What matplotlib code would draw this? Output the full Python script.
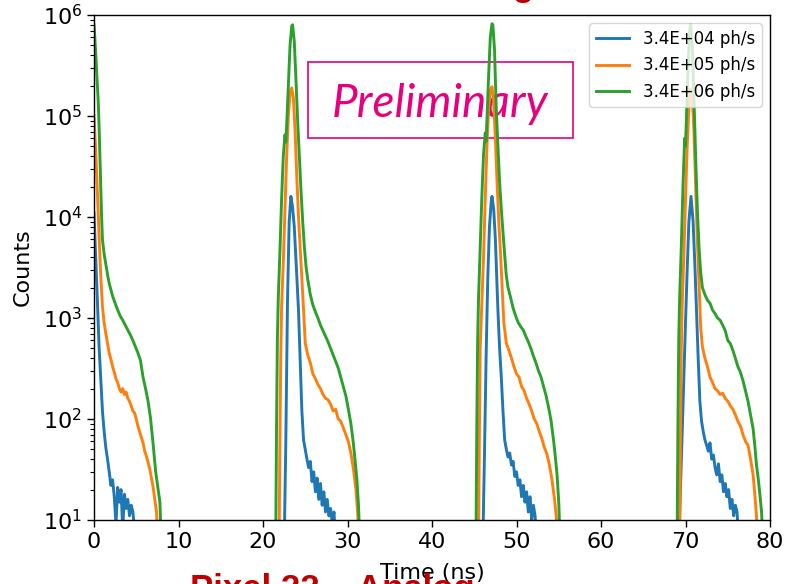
import matplotlib.pyplot as plt
from matplotlib.patches import Rectangle

# time histograms (ns, counts) per photon rate; 5 = empty bins below the axis floor
labels = ["3.4E+04 ph/s", "3.4E+05 ph/s", "3.4E+06 ph/s"]

blue_t = [0.0, 0.2, 0.4, 0.6, 0.8, 1.0, 1.2, 1.4, 1.6, 1.8, 2.0, 2.2, 2.4, 2.6, 2.8, 3.0, 3.2, 3.4, 3.6, 3.8,
          4.0, 4.2, 4.4, 4.6, 4.8, 5.0,
          22.5, 22.7, 22.9, 23.1, 23.3, 23.5, 23.7, 24.0, 24.2, 24.4, 24.6, 24.8, 25.0, 25.2, 25.4, 25.6, 25.8,
          26.0, 26.2, 26.4, 26.6, 26.8, 27.0, 27.2, 27.4, 27.6, 27.8, 28.0, 28.2, 28.4, 28.6,
          46.0, 46.2, 46.4, 46.6, 46.8, 47.0, 47.1, 47.3, 47.5, 47.8, 48.0, 48.2, 48.4, 48.6, 48.8, 49.0, 49.2,
          49.4, 49.6, 49.8, 50.0, 50.2, 50.4, 50.6, 50.8, 51.0, 51.2, 51.4, 51.6, 51.8, 52.0, 52.2, 52.4,
          69.2, 69.4, 69.6, 69.8, 70.0, 70.2, 70.4, 70.65, 70.9, 71.1, 71.3, 71.5, 71.7, 71.9, 72.1, 72.3, 72.5,
          72.7, 72.9, 73.1, 73.3, 73.5, 73.7, 73.9, 74.1, 74.3, 74.5, 74.7, 74.9, 75.1, 75.3, 75.5, 75.7, 75.9,
          76.1, 76.3]
blue_c = [11000, 4000, 1500, 520, 250, 120, 75, 52, 40, 30, 22, 25, 17, 9, 21, 15, 20, 8, 18, 13,
          16, 11, 14, 12, 8, 5,
          5, 60, 1500, 9000, 16000, 12500, 8000, 2600, 1200, 380, 120, 62, 50, 40, 33, 38, 24,
          30, 19, 26, 16, 23, 14, 19, 12, 16, 11, 13, 9, 12, 6,
          5, 40, 400, 2500, 8000, 14000, 16000, 12000, 6000, 1200, 500, 260, 120, 62, 50, 42, 46,
          35, 38, 27, 30, 22, 25, 17, 22, 15, 19, 12, 17, 10, 14, 11, 6,
          5, 20, 70, 250, 900, 3000, 9000, 16000, 9000, 3500, 1200, 400, 150, 95, 75, 62, 55,
          48, 58, 40, 44, 33, 28, 36, 24, 28, 19, 23, 17, 20, 13, 16, 11, 14,
          12, 6]

orange_t = [0.0, 0.2, 0.4, 0.6, 0.8, 1.0, 1.2, 1.4, 1.6, 1.8, 2.0, 2.2, 2.4, 2.6, 2.8, 3.0, 3.2, 3.4, 3.6, 3.8,
            4.0, 4.2, 4.4, 4.6, 4.8, 5.0, 5.2, 5.4, 5.6, 5.8, 6.0, 6.2, 6.4, 6.6, 6.8, 7.0, 7.2, 7.4, 7.6,
            21.9, 22.0, 22.1, 22.2, 22.4, 22.6, 22.8, 23.0, 23.2, 23.4, 23.6, 23.8, 24.0, 24.2, 24.4, 24.6, 24.8,
            25.0, 25.3, 25.6, 25.9, 26.2, 26.5, 26.8, 27.1, 27.4, 27.7, 28.0, 28.3, 28.6, 28.9, 29.2, 29.5, 29.8,
            30.1, 30.4, 30.7, 31.0, 31.2, 31.4,
            45.5, 45.6, 45.7, 45.9, 46.1, 46.3, 46.5, 46.7, 46.9, 47.1, 47.3, 47.5, 47.7, 47.9, 48.1, 48.3, 48.5,
            48.8, 49.1, 49.4, 49.7, 50.0, 50.3, 50.6, 50.9, 51.2, 51.5, 51.8, 52.1, 52.4, 52.7, 53.0, 53.3, 53.6,
            53.9, 54.2, 54.5, 54.7, 54.9,
            69.3, 69.4, 69.5, 69.6, 69.8, 70.0, 70.2, 70.4, 70.6, 70.8, 71.0, 71.2, 71.4, 71.6, 71.8, 72.0, 72.3,
            72.6, 72.9, 73.2, 73.5, 73.8, 74.1, 74.4, 74.7, 75.0, 75.3, 75.6, 75.9, 76.2, 76.5, 76.8, 77.1, 77.4,
            77.7, 78.0, 78.2, 78.4, 78.6]
orange_c = [100000, 45000, 18000, 6500, 2600, 1300, 900, 700, 560, 450, 390, 330, 290, 250, 230, 200, 185, 200,
            175, 185, 160, 150, 135, 120, 115, 100, 85, 75, 66, 58, 48, 43, 37, 32, 26, 21, 16, 12, 5,
            5, 60, 400, 1300, 3500, 12000, 40000, 100000, 170000, 190000, 150000, 70000, 25000, 10000, 5000, 2600,
            1200, 560, 430, 360, 280, 250, 220, 200, 175, 160, 155, 140, 120, 125, 100, 95, 82, 70,
            60, 46, 32, 20, 12, 5,
            5, 60, 500, 1400, 4000, 15000, 50000, 120000, 180000, 195000, 140000, 60000, 22000, 9000, 4500, 2000,
            900, 560, 480, 400, 330, 280, 260, 210, 190, 160, 140, 120, 100, 90, 75, 64, 52, 45,
            35, 25, 16, 11, 5,
            5, 60, 500, 1300, 4000, 15000, 50000, 120000, 185000, 160000, 70000, 20000, 6000, 2200, 800, 520, 400,
            330, 260, 230, 200, 190, 175, 180, 160, 150, 135, 125, 110, 95, 85, 70, 60, 55,
            40, 28, 18, 11, 5]

green_t = [0.0, 0.1, 0.2, 0.3, 0.4, 0.5, 0.6, 0.7, 0.8, 0.9, 1.0, 1.2, 1.4, 1.6, 1.8, 2.0, 2.2, 2.5, 2.8, 3.1,
           3.4, 3.7, 4.0, 4.3, 4.6, 4.9, 5.2, 5.5, 5.8, 6.1, 6.4, 6.7, 7.0, 7.3, 7.6, 7.8, 8.0,
           21.5, 21.6, 21.7, 21.8, 22.0, 22.2, 22.4, 22.6, 22.7, 22.8, 23.0, 23.2, 23.4, 23.5, 23.7, 23.9, 24.1,
           24.3, 24.5, 24.7, 24.9, 25.1, 25.3, 25.6, 25.9, 26.2, 26.5, 26.8, 27.1, 27.4, 27.7, 28.0, 28.3, 28.6,
           28.9, 29.2, 29.5, 29.8, 30.1, 30.4, 30.7, 30.9, 31.1, 31.3, 31.5,
           45.2, 45.3, 45.4, 45.5, 45.7, 45.9, 46.1, 46.3, 46.4, 46.5, 46.7, 46.9, 47.1, 47.2, 47.4, 47.6, 47.8,
           48.0, 48.2, 48.4, 48.6, 48.8, 49.0, 49.3, 49.6, 49.9, 50.2, 50.5, 50.8, 51.1, 51.4, 51.7, 52.0, 52.3,
           52.6, 52.9, 53.2, 53.5, 53.8, 54.1, 54.4, 54.6, 54.8, 55.0, 55.2,
           69.0, 69.1, 69.2, 69.3, 69.5, 69.7, 69.9, 70.0, 70.1, 70.3, 70.5, 70.6, 70.8, 71.0, 71.2, 71.4, 71.6,
           71.8, 72.0, 72.3, 72.6, 72.9, 73.2, 73.5, 73.8, 74.1, 74.4, 74.7, 75.0, 75.3, 75.6, 75.9, 76.2, 76.5,
           76.8, 77.1, 77.4, 77.7, 78.0, 78.2, 78.4, 78.6, 78.8, 79.0, 79.2]
green_c = [800000, 600000, 420000, 300000, 200000, 140000, 80000, 40000, 20000, 10000, 6000, 4300, 3400, 2700,
           2200, 1900, 1650, 1400, 1200, 1050, 950, 850, 760, 680, 600, 520, 450, 380, 260, 200, 150, 100, 56,
           30, 20, 15, 5,
           5, 80, 600, 1500, 4500, 15000, 40000, 65000, 55000, 80000, 200000, 500000, 780000, 800000, 550000,
           230000, 90000, 40000, 18000, 9000, 5000, 3200, 2400, 1700, 1350, 1150, 1000, 850, 750, 660, 580, 500,
           430, 370, 320, 260, 210, 170, 125, 90, 57, 38, 26, 14, 5,
           5, 80, 600, 1500, 5000, 16000, 42000, 68000, 56000, 90000, 250000, 600000, 820000, 800000, 450000,
           120000, 50000, 22000, 12000, 7000, 4200, 2600, 2000, 1600, 1250, 1050, 900, 820, 760, 660, 580, 500,
           420, 360, 300, 260, 210, 170, 130, 95, 60, 42, 28, 15, 5,
           5, 80, 600, 1500, 5000, 20000, 60000, 50000, 90000, 300000, 700000, 810000, 500000, 150000, 40000,
           12000, 5000, 2800, 2000, 1700, 1500, 1400, 1200, 1100, 1000, 950, 850, 750, 600, 560, 480, 400, 330,
           290, 240, 190, 150, 110, 80, 55, 35, 26, 18, 12, 5]

xticks = [0, 10, 20, 30, 40, 50, 60, 70, 80]
magenta = "#e6007e"
darkred = "#c00000"

fig = plt.figure(figsize=(7.87, 5.84), dpi=100)
ax = fig.add_axes([94 / 787, 1 - 520 / 584, 676 / 787, 505 / 584])

for t, c, lab, col in [(blue_t, blue_c, labels[0], "C0"),
                       (orange_t, orange_c, labels[1], "C1"),
                       (green_t, green_c, labels[2], "C2")]:
    ax.plot(t, c, color=col, lw=2.1, label=lab)

ax.set_yscale("log")
ax.set_xlim(0, 80)
ax.set_ylim(10, 1e6)
ax.set_xticks(xticks)
ax.tick_params(axis="both", which="major", labelsize=16, length=5, width=1)
ax.tick_params(axis="y", which="minor", length=3, width=0.8)
for s in ax.spines.values():
    s.set_linewidth(1)
ax.set_xlabel("Time (ns)", fontsize=16, labelpad=8)
ax.set_ylabel("Counts", fontsize=16, labelpad=7)
ax.legend(loc="upper right", fontsize=12)

# "Preliminary" stamp, behind the curves
ax.add_patch(Rectangle((308 / 787, 1 - 138 / 584), 265 / 787, 76 / 584, transform=fig.transFigure,
                       fill=False, edgecolor=magenta, lw=1.2, zorder=1))
ax.text(440 / 787, 1 - 117 / 584, "Preliminary", transform=fig.transFigure, ha="center", va="baseline",
        fontsize=33, style="italic", family="Lato", color=magenta, zorder=1)

# slide captions running off the page edges
fig.text(190 / 787, 1 - 573 / 584, "Pixel 22 \u2013 Analog", ha="left", va="top", fontsize=25,
         fontweight="bold", family="Liberation Sans", color=darkred)
fig.text(535 / 787, 1 + 4 / 584, "Timing", ha="right", va="baseline", fontsize=25,
         fontweight="bold", family="Liberation Sans", color=darkred)

fig.savefig("out.png", dpi=100)
